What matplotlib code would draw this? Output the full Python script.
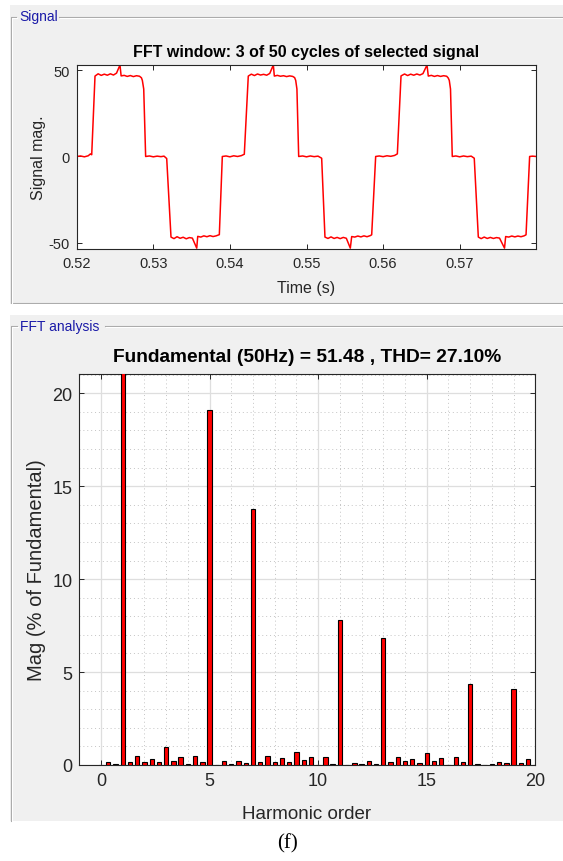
import numpy as np
import matplotlib.pyplot as plt
from matplotlib.patches import Rectangle
from matplotlib.lines import Line2D
from matplotlib.ticker import MultipleLocator

plt.rcParams['font.family'] = ['Liberation Sans', 'DejaVu Sans']
plt.rcParams['axes.unicode_minus'] = False

# measured signal, 3 cycles (time in s, value)
sig_t = [0.5200, 0.5205, 0.5210, 0.5215, 0.5218, 0.52196, 0.52239, 0.5228, 0.5232, 0.5236,
         0.5240, 0.5244, 0.5248, 0.5252, 0.52565, 0.5258, 0.5262, 0.5266, 0.5270, 0.5274,
         0.5278, 0.5282, 0.52845, 0.52857, 0.52875, 0.5290, 0.5295, 0.5300, 0.5305, 0.5310,
         0.5314, 0.53175, 0.53231, 0.5327, 0.5331, 0.5335, 0.5339, 0.5343, 0.5347, 0.5351,
         0.53567, 0.5358, 0.5362, 0.5366, 0.5370, 0.5374, 0.5378, 0.5382, 0.53862, 0.53901,
         0.5395, 0.5400, 0.5405, 0.5410, 0.5415, 0.54188, 0.5424, 0.5428, 0.5432, 0.5436,
         0.5440, 0.5444, 0.5448, 0.5452, 0.54567, 0.5458, 0.5462, 0.5466, 0.5470, 0.5474,
         0.5478, 0.5482, 0.54845, 0.54859, 0.54875, 0.54898, 0.5495, 0.5500, 0.5505, 0.5510,
         0.5515, 0.55198, 0.55241, 0.5528, 0.5532, 0.5536, 0.5540, 0.5544, 0.5548, 0.5552,
         0.55572, 0.5559, 0.5563, 0.5567, 0.5571, 0.5575, 0.5579, 0.5583, 0.55851, 0.55903,
         0.5595, 0.5600, 0.5605, 0.5610, 0.5615, 0.56186, 0.56234, 0.5628, 0.5632, 0.5636,
         0.5640, 0.5644, 0.5648, 0.5652, 0.56573, 0.5659, 0.5663, 0.5667, 0.5671, 0.5675,
         0.5679, 0.5683, 0.5685, 0.56864, 0.5688, 0.56903, 0.5695, 0.5700, 0.5705, 0.5710,
         0.5715, 0.5719, 0.57243, 0.5728, 0.5732, 0.5736, 0.5740, 0.5744, 0.5748, 0.5752,
         0.57585, 0.5760, 0.5764, 0.5768, 0.5772, 0.5776, 0.5780, 0.5784, 0.57866, 0.57913,
         0.5795, 0.5800]
sig_v = [0.0, 0.3, -0.2, 0.4, 1.5, 1.0, 46.5, 47.8, 46.9, 47.6,
         47.0, 47.8, 47.1, 48.2, 52.9, 46.6, 46.9, 46.3, 46.8, 46.2,
         46.7, 46.4, 45.5, 44.0, 39.0, 0.0, 0.3, -0.2, 0.2, -0.1,
         0.2, -1.2, -46.6, -47.5, -46.4, -47.3, -46.7, -47.6, -46.9, -47.2,
         -53.0, -46.2, -46.6, -45.9, -46.4, -45.8, -46.3, -45.9, -45.2, 0.0,
         0.3, -0.2, 0.4, 0.0, 0.5, 1.3, 46.5, 47.6, 46.8, 47.7,
         47.1, 47.5, 47.0, 48.0, 52.9, 46.5, 46.9, 46.4, 46.7, 46.2,
         46.6, 46.3, 45.6, 44.0, 39.0, 0.0, 0.3, -0.2, 0.3, -0.1,
         0.2, -1.0, -46.6, -47.4, -46.5, -47.4, -46.8, -47.5, -46.8, -47.3,
         -53.0, -46.3, -46.6, -46.0, -46.5, -45.9, -46.4, -45.8, -45.3, 0.0,
         0.3, -0.1, 0.4, 0.1, 0.6, 1.5, 46.6, 47.7, 46.8, 47.6,
         47.0, 47.7, 47.1, 47.9, 52.9, 46.5, 46.9, 46.3, 46.8, 46.3,
         46.7, 46.4, 45.4, 44.0, 39.0, 0.0, 0.3, -0.2, 0.3, -0.1,
         0.2, -1.0, -46.6, -47.5, -46.6, -47.4, -46.8, -47.4, -46.9, -47.2,
         -53.0, -46.3, -46.6, -46.0, -46.5, -46.0, -46.4, -45.9, -45.3, 0.0,
         0.2, 0.0]

# harmonic spectrum, % of fundamental, orders 0, 1/3, 2/3, ... 20
harm_mag = [0.02, 0.16, 0.04, 100.0, 0.15, 0.47, 0.15, 0.34, 0.17, 0.95,
            0.22, 0.41, 0.08, 0.48, 0.18, 19.12, 0.02, 0.22, 0.06, 0.23,
            0.11, 13.78, 0.16, 0.48, 0.16, 0.36, 0.16, 0.72, 0.27, 0.43,
            0.02, 0.41, 0.05, 7.82, 0.02, 0.09, 0.06, 0.23, 0.05, 6.84,
            0.14, 0.41, 0.22, 0.30, 0.11, 0.66, 0.22, 0.39, 0.02, 0.41,
            0.14, 4.38, 0.04, 0.01, 0.04, 0.16, 0.09, 4.11, 0.11, 0.34,
            0.0]
harm_order = np.arange(len(harm_mag)) / 3

sig_xticks = [0.52, 0.53, 0.54, 0.55, 0.56, 0.57]
fft_ticks = [0, 5, 10, 15, 20]

W, H = 563, 862
fig = plt.figure(figsize=(W / 100, H / 100), dpi=100)
fig.patch.set_facecolor('white')

def fx(x):
    return x / W

def fy(y):
    return 1 - y / H

def add_rect(x0, y0, x1, y1, color):
    fig.patches.append(Rectangle((fx(x0), fy(y1)), fx(x1) - fx(x0), fy(y0) - fy(y1),
                                 transform=fig.transFigure, facecolor=color,
                                 edgecolor='none', zorder=-10))

def add_line(xs, ys, color, lw=1.0):
    fig.add_artist(Line2D([fx(x) for x in xs], [fy(y) for y in ys], color=color,
                          lw=lw, transform=fig.transFigure, zorder=-5))

def etched(xs, ys):
    add_line(xs, ys, '#a8a8a8', 0.8)
    add_line([x + 1 for x in xs], [y + 1 for y in ys], 'white', 0.8)

# panels
add_rect(10, 6, 563, 305, '#f0f0f0')
add_rect(10, 316, 563, 822, '#f0f0f0')
etched([16, 11, 11, 563], [17.5, 17.5, 304, 304])
etched([59, 563], [17.5, 17.5])
etched([17, 11, 11], [326.5, 326.5, 822])
etched([105, 563], [326.5, 326.5])
fig.text(fx(19), fy(17.5), 'Signal', color='#1a1aa8', fontsize=10, va='center', ha='left')
fig.text(fx(19.5), fy(327), 'FFT analysis', color='#1a1aa8', fontsize=10, va='center', ha='left')

axcol = '#262626'

def style(ax, size):
    ax.set_zorder(2)
    ax.set_facecolor('white')
    for s in ax.spines.values():
        s.set_color(axcol)
        s.set_linewidth(0.8)
    ax.tick_params(which='major', direction='in', top=True, right=True, length=3.5,
                   width=0.7, colors=axcol, labelsize=size, pad=5)
    ax.tick_params(which='minor', length=0)

# signal axes
ax1 = fig.add_axes([fx(76.7), fy(250), fx(536.3) - fx(76.7), fy(66) - fy(250)])
ax1.plot(sig_t, sig_v, color='red', lw=1.1)
ax1.set_xlim(0.52, 0.58)
ax1.set_ylim(-53.5, 52.9)
ax1.set_xticks(sig_xticks)
ax1.set_xticklabels(['%.2f' % t for t in sig_xticks])
ax1.set_yticks([-50, 0, 50])
style(ax1, 10.5)
fig.text(fx(306.5), fy(52), 'FFT window: 3 of 50 cycles of selected signal',
         fontsize=11.5, fontweight='bold', ha='center', va='center', color='black')
fig.text(fx(306.5), fy(288), 'Time (s)', fontsize=11.5, ha='center', va='center', color=axcol)
fig.text(fx(39), fy(158), 'Signal mag.', fontsize=11.5, ha='center', va='center',
         rotation=90, color=axcol)

# FFT axes
ax2 = fig.add_axes([fx(79.3), fy(766), fx(535.3) - fx(79.3), fy(375) - fy(766)])
ax2.bar(harm_order, harm_mag, width=0.2, color='red', edgecolor='black', lw=0.8, zorder=3)
ax2.set_xlim(-1, 20)
ax2.set_ylim(0, 21.04)
ax2.set_xticks(fft_ticks)
ax2.set_yticks(fft_ticks)
ax2.xaxis.set_minor_locator(MultipleLocator(1))
ax2.yaxis.set_minor_locator(MultipleLocator(1))
ax2.grid(which='major', color='#dedede', lw=0.9, ls='-', zorder=0)
ax2.grid(which='minor', color='#c4c4c4', lw=0.7, ls=(0, (1, 3)), zorder=0)
ax2.set_axisbelow(True)
style(ax2, 13)
fig.text(fx(307), fy(358), 'Fundamental (50Hz) = 51.48 , THD= 27.10%',
         fontsize=13.8, fontweight='bold', ha='center', va='center', color='black')
fig.text(fx(307), fy(815), 'Harmonic order', fontsize=13.5, ha='center', va='center', color=axcol)
fig.text(fx(37), fy(570), 'Mag (% of Fundamental)', fontsize=14.5, ha='center', va='center',
         rotation=90, color=axcol)

fig.text(fx(287), fy(844), '(f)', fontsize=15, family='Liberation Serif',
         ha='center', va='center', color='black')

fig.savefig('out.png', dpi=100)
